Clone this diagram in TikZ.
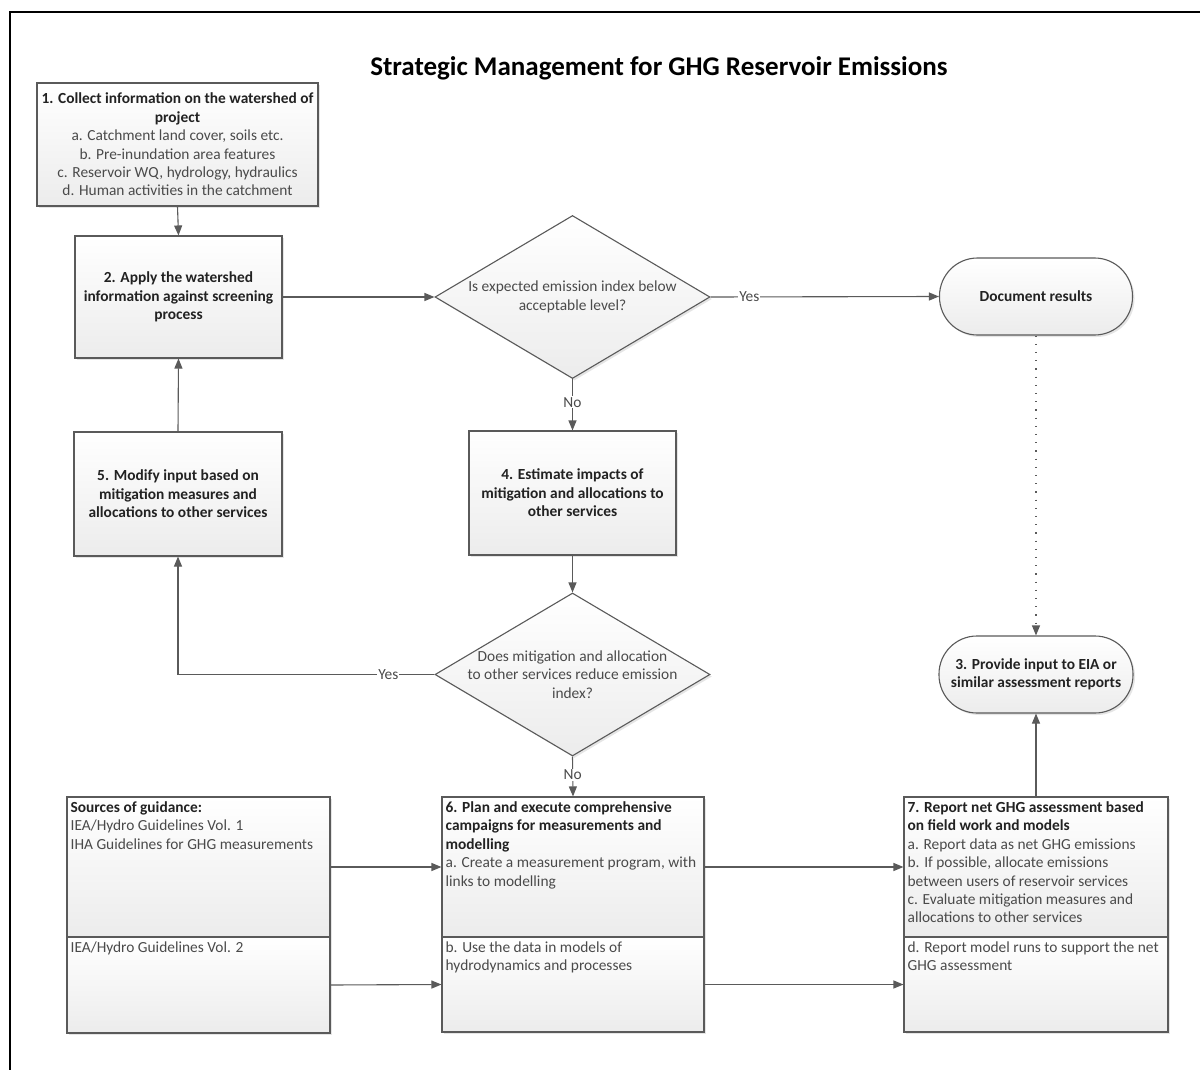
\documentclass[tikz,border=0pt]{standalone}
\usepackage{fontspec}
\setmainfont{Carlito}
\usetikzlibrary{shapes.geometric,shadows,arrows.meta,calc}
\definecolor{linec}{HTML}{5A5A5A}
\definecolor{boxbot}{HTML}{ECECEC}
\definecolor{headc}{HTML}{222222}
\definecolor{txtc}{HTML}{4A4A4A}
\begin{document}
\begin{tikzpicture}[x=1pt,y=-1pt,
  every node/.style={font=\fontsize{15.4}{18.4}\selectfont},
  base/.style={draw=linec, line width=1.1pt, top color=white, bottom color=boxbot,
    drop shadow={opacity=0.2,shadow xshift=2pt,shadow yshift=-2pt}, inner sep=0pt},
  box/.style={base, rectangle, align=center, text=headc},
  dia/.style={base, diamond},
  stad/.style={base, rectangle, rounded corners=38pt, align=center, text=headc},
  txt/.style={inner sep=0pt, align=left, text=txtc, anchor=north west},
  arr/.style={draw=linec, line width=1.1pt, -{Triangle[length=10pt,width=8pt]}},
  lbl/.style={fill=white, inner sep=1pt, text=txtc},
  bf/.style={font=\fontsize{15.4}{18.4}\selectfont\bfseries}
]
\useasboundingbox (0,0) rectangle (1200,1070);
\fill[white] (0,0) rectangle (1200,1070);
\draw[line width=1.4pt, black] (10,1075) -- (10,12) -- (1205,12);

\node[font=\fontsize{27}{32}\selectfont\bfseries, text=black] (title) at (659,68) {Strategic Management for GHG Reservoir Emissions};

% box 1
\node[box, minimum width=281pt, minimum height=123pt, text=txtc] (b1) at (177.5,144.5)
 {\textcolor{headc}{\textbf{1. Collect information on the watershed of}}\\
  \textcolor{headc}{\textbf{project}}\\
  a. Catchment land cover, soils etc.\\
  b. Pre-inundation area features\\
  c. Reservoir WQ, hydrology, hydraulics\\
  d. Human activities in the catchment};

% box 2
\node[box, bf, minimum width=207pt, minimum height=122pt] (b2) at (178.5,297)
 {2. Apply the watershed\\ information against screening\\ process};

% diamond 1
\node[dia, minimum width=275pt, minimum height=163pt] (d1) at (572.5,297) {};
\node[align=center, text=txtc, inner sep=0pt] (d1t) at (572.5,297) {Is expected emission index below\\ acceptable level?};

% document results
\node[stad, bf, minimum width=193pt, minimum height=77pt] (doc) at (1036,296.5) {Document results};

% box 4
\node[box, bf, minimum width=207pt, minimum height=124pt] (b4) at (572.5,493)
 {4. Estimate impacts of\\ mitigation and allocations to\\ other services};

% box 5
\node[box, bf, minimum width=208pt, minimum height=124pt] (b5) at (178,494)
 {5. Modify input based on\\ mitigation measures and\\ allocations to other services};

% diamond 2
\node[dia, minimum width=275pt, minimum height=163pt] (d2) at (572.5,674.5) {};
\node[align=center, text=txtc, inner sep=0pt] (d2t) at (572.5,674.5) {Does mitigation and allocation\\ to other services reduce emission\\ index?};

% provide input
\node[stad, bf, minimum width=194pt, minimum height=77pt] (p3) at (1036,674.5)
 {3. Provide input to EIA or\\ similar assessment reports};

% sources
\node[box, minimum width=263pt, minimum height=140pt] (srcA) at (198.5,867) {};
\node[box, minimum width=263pt, minimum height=96pt] (srcB) at (198.5,985) {};
\node[txt] (srcAt) at ($(srcA.north west)+(4,5)$)
 {\textcolor{headc}{\textbf{Sources of guidance:}}\\ IEA/Hydro Guidelines Vol. 1\\ IHA Guidelines for GHG measurements};
\node[txt] (srcBt) at ($(srcB.north west)+(4,5)$) {IEA/Hydro Guidelines Vol. 2};

% box 6
\node[box, minimum width=262pt, minimum height=140pt] (s6a) at (573,867) {};
\node[box, minimum width=262pt, minimum height=95pt] (s6b) at (573,984.5) {};
\node[txt] (s6at) at ($(s6a.north west)+(4,5)$)
 {\textcolor{headc}{\textbf{6. Plan and execute comprehensive}}\\
  \textcolor{headc}{\textbf{campaigns for measurements and}}\\
  \textcolor{headc}{\textbf{modelling}}\\
  a. Create a measurement program, with\\ links to modelling};
\node[txt] (s6bt) at ($(s6b.north west)+(4,5)$) {b. Use the data in models of\\ hydrodynamics and processes};

% box 7
\node[box, minimum width=264pt, minimum height=140pt] (s7a) at (1036,867) {};
\node[box, minimum width=264pt, minimum height=95pt] (s7b) at (1036,984.5) {};
\node[txt] (s7at) at ($(s7a.north west)+(4,5)$)
 {\textcolor{headc}{\textbf{7. Report net GHG assessment based}}\\
  \textcolor{headc}{\textbf{on field work and models}}\\
  a. Report data as net GHG emissions\\
  b. If possible, allocate emissions\\
  between users of reservoir services\\
  c. Evaluate mitigation measures and\\
  allocations to other services};
\node[txt] (s7bt) at ($(s7b.north west)+(4,5)$) {d. Report model runs to support the net\\ GHG assessment};

% connectors
\draw[arr] (b1.south) -- (b2.north);
\draw[arr] (b2.east) -- (d1.west);
\draw[arr] (d1.east) -- node[lbl, pos=0.17] {Yes} (doc.west);
\draw[arr, dash pattern=on 1.2pt off 7pt] (doc.south) -- (p3.north);
\draw[arr] (d1.south) -- node[lbl, pos=0.45] {No} (b4.north);
\draw[arr] (b4.south) -- (d2.north);
\draw[arr] (d2.west) -| node[lbl, pos=0.09] {Yes} (b5.south);
\draw[arr] (b5.north) -- (b2.south);
\draw[arr] (d2.south) -- node[lbl, pos=0.45] {No} (s6a.north);
\draw[arr] (srcA.east) -- (s6a.west);
\draw[arr] (srcB.east) -- (s6b.west);
\draw[arr] (s6a.east) -- (s7a.west);
\draw[arr] (s6b.east) -- (s7b.west);
\draw[arr] (s7a.north) -- (p3.south);
\end{tikzpicture}
\end{document}
